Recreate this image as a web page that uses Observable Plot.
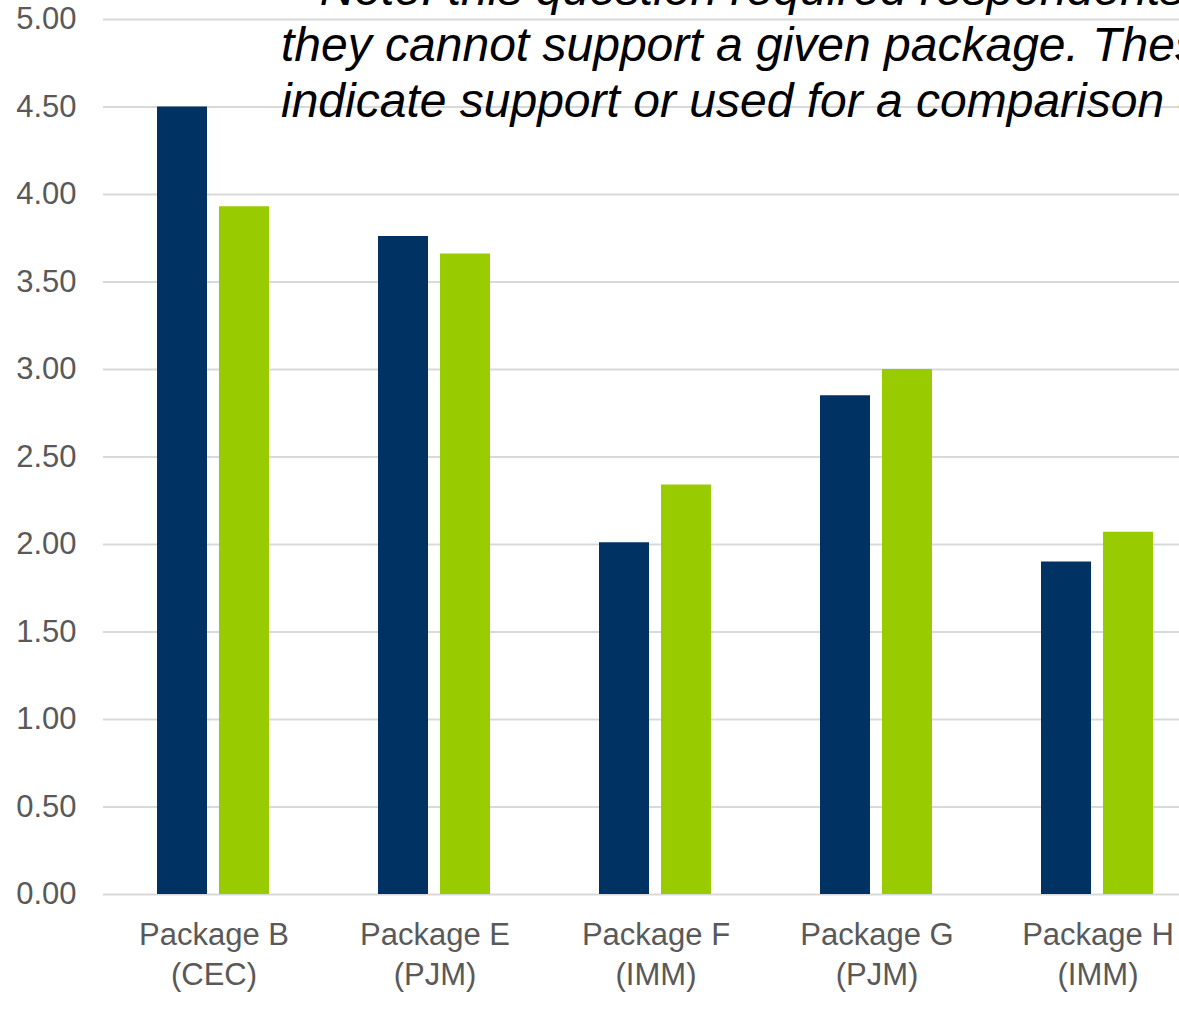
<!DOCTYPE html>
<html>
<head>
<meta charset="utf-8">
<script src="https://cdn.jsdelivr.net/npm/d3@7"></script>
<script src="https://cdn.jsdelivr.net/npm/@observablehq/plot@0.6"></script>
<style>
  html, body { margin: 0; padding: 0; background: #fff; overflow: hidden; width: 1179px; height: 1016px; }
  #wrap { position: relative; width: 1179px; height: 1016px; overflow: hidden; }
  #chart { position: absolute; left: 0; top: 0; width: 1208px; }
  #chart svg { max-width: none !important; }
  #note {
    position: absolute; left: 281px; top: -39px;
    font-family: "Liberation Sans", Arial, sans-serif; font-style: italic;
    font-size: 48px; line-height: 56px; color: #000; white-space: nowrap;
  }
</style>
</head>
<body>
<div id="wrap">
  <div id="chart"></div>
  <div id="note"></div>
</div>
<script>
// ---- data ----
const categories = ["Package B\n(CEC)", "Package E\n(PJM)", "Package F\n(IMM)", "Package G\n(PJM)", "Package H\n(IMM)"];
const seriesNames = ["Series 1", "Series 2"];
const series1 = [4.50, 3.76, 2.01, 2.85, 1.90];
const series2 = [3.93, 3.66, 2.34, 3.00, 2.07];
const yTicks = [0, 0.5, 1, 1.5, 2, 2.5, 3, 3.5, 4, 4.5, 5];
const noteLines = [
  "*Note: this question required respondents to indicate if",
  "they cannot support a given package. These responses",
  "indicate support or used for a comparison of packages."
];
const colors = ["#003263", "#99cc00"];

const data = [];
categories.forEach((c, i) => {
  data.push({category: c, series: seriesNames[0], value: series1[i]});
  data.push({category: c, series: seriesNames[1], value: series2[i]});
});

const chart = Plot.plot({
  width: 1208,
  height: 1016,
  marginLeft: 102,
  marginRight: 0,
  marginTop: 19,
  marginBottom: 122,
  facet: {marginTop: 0, marginBottom: 0, marginLeft: 0, marginRight: 0},
  style: {fontFamily: "'Liberation Sans', Arial, sans-serif", fontSize: "31px", color: "#595959", background: "transparent", maxWidth: "none"},
  fx: {domain: categories, padding: 0, label: null, axis: null},
  x: {domain: seriesNames, paddingInner: 0.1935, paddingOuter: 0.879, axis: null},
  y: {domain: [0, 5], label: null, axis: null},
  color: {domain: seriesNames, range: colors},
  marks: [
    Plot.ruleY(yTicks, {stroke: "#d9d9d9", strokeWidth: 2}),
    Plot.barY(data, {fx: "category", x: "series", y: "value", fill: "series"}),
    Plot.axisY(yTicks, {tickSize: 0, tickPadding: 27, tickFormat: d => d.toFixed(2), fill: "#595959", fontSize: 31}),
    Plot.axisFx({anchor: "bottom", tickSize: 0, tickPadding: 22, lineHeight: 1.3, fill: "#595959", fontSize: 31, label: null})
  ]
});
document.getElementById("chart").appendChild(chart);

const note = document.getElementById("note");
noteLines.forEach((t, i) => {
  const d = document.createElement("div");
  d.textContent = t;
  if (i === 0) d.style.textIndent = "20px";
  note.appendChild(d);
});
</script>
</body>
</html>
